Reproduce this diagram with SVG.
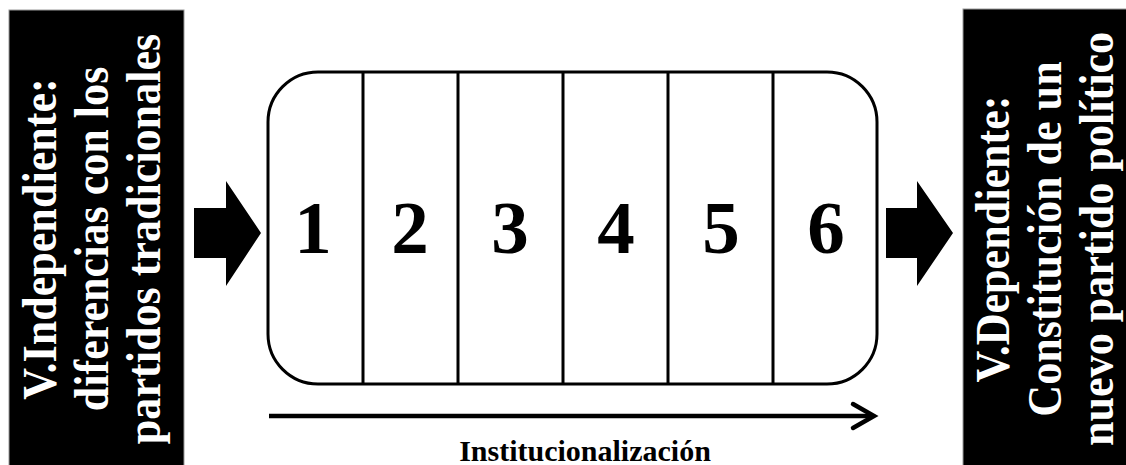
<svg xmlns="http://www.w3.org/2000/svg" width="1126" height="465" viewBox="0 0 1126 465">
<style>
.vt{font-family:"Liberation Serif","Times New Roman",serif;font-weight:bold;font-size:49px;fill:#fff;text-anchor:middle}
.num{font-family:"Liberation Serif","Times New Roman",serif;font-weight:bold;font-size:75px;fill:#000;text-anchor:middle}
.lbl{font-family:"Liberation Serif","Times New Roman",serif;font-weight:bold;font-size:30px;fill:#000;text-anchor:middle}
.div{stroke:#000;stroke-width:3;fill:none}
</style>
<rect width="1126" height="465" fill="#fff"/>
<g id="independiente">
<rect x="9" y="10" width="175" height="460" fill="#000" stroke="#999" stroke-width="1"/>
<g transform="translate(0,239) rotate(-90) scale(0.9,1)">
<text class="vt" x="0" y="56">V.Independiente:</text>
<text class="vt" x="0" y="108">diferencias con los</text>
<text class="vt" x="0" y="160">partidos tradicionales</text>
</g>
</g>
<g id="dependiente">
<rect x="963" y="9" width="170" height="460" fill="#000" stroke="#999" stroke-width="1"/>
<g transform="translate(0,239) rotate(-90) scale(0.9,1)">
<text class="vt" x="0" y="1009">V.Dependiente:</text>
<text class="vt" x="0" y="1061">Constitución de un</text>
<text class="vt" x="0" y="1113">nuevo partido político</text>
</g>
</g>
<g id="proceso">
<rect x="268" y="72" width="609" height="312" rx="50" ry="50" class="div"/>
<line class="div" x1="363" y1="72" x2="363" y2="384"/>
<line class="div" x1="458" y1="72" x2="458" y2="384"/>
<line class="div" x1="563" y1="72" x2="563" y2="384"/>
<line class="div" x1="668" y1="72" x2="668" y2="384"/>
<line class="div" x1="773" y1="72" x2="773" y2="384"/>
<text class="num" x="313" y="253">1</text>
<text class="num" x="410" y="253">2</text>
<text class="num" x="510" y="253">3</text>
<text class="num" x="616" y="253">4</text>
<text class="num" x="721" y="253">5</text>
<text class="num" x="826" y="253">6</text>
</g>
<g id="connectors">
<polygon points="194,208 226,208 226,181 261,233 226,286 226,258 194,258" fill="#000"/>
<polygon points="886,208 917,208 917,181 953,233 917,286 917,258 886,258" fill="#000"/>
<line x1="269" y1="416" x2="873" y2="416" stroke="#000" stroke-width="4.5"/>
<polyline points="853,404 874,416 853,428" fill="none" stroke="#000" stroke-width="4.5" stroke-linecap="round" stroke-linejoin="miter"/>
</g>
<g id="institucionalizacion">
<text class="lbl" x="585" y="461">Institucionalización</text>
</g>
</svg>
